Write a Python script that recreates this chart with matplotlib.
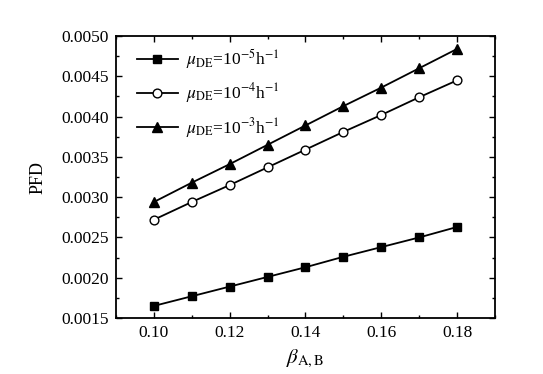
import matplotlib
matplotlib.use("Agg")
import matplotlib.pyplot as plt
from matplotlib.ticker import MultipleLocator, FormatStrFormatter

plt.rcParams['font.family'] = ['Liberation Serif', 'DejaVu Serif']
plt.rcParams['mathtext.fontset'] = 'stix'

beta = [0.10, 0.11, 0.12, 0.13, 0.14, 0.15, 0.16, 0.17, 0.18]
pfd_1e5 = [0.00165, 0.00177, 0.00189, 0.00201, 0.00213, 0.00226, 0.00238, 0.00250, 0.00263]
pfd_1e4 = [0.00272, 0.00294, 0.00315, 0.00337, 0.00359, 0.00381, 0.00402, 0.00424, 0.00445]
pfd_1e3 = [0.00294, 0.00318, 0.00341, 0.00365, 0.00389, 0.00413, 0.00436, 0.00460, 0.00484]
labels = [r'$\mu_{\mathrm{DE}}$=10$^{-5}$h$^{-1}$',
          r'$\mu_{\mathrm{DE}}$=10$^{-4}$h$^{-1}$',
          r'$\mu_{\mathrm{DE}}$=10$^{-3}$h$^{-1}$']

fig = plt.figure(figsize=(5.43, 3.74), dpi=100)
ax = fig.add_axes([0.2136, 0.1497, 0.698, 0.754])

ax.plot(beta, pfd_1e5, color='black', lw=1.3, marker='s', ms=5.5,
        mfc='black', mec='black', label=labels[0])
ax.plot(beta, pfd_1e4, color='black', lw=1.3, marker='o', ms=6.3,
        mfc='white', mec='black', mew=1.0, label=labels[1])
ax.plot(beta, pfd_1e3, color='black', lw=1.3, marker='^', ms=6.8,
        mfc='black', mec='black', label=labels[2])

ax.set_xlim(0.09, 0.19)
ax.set_ylim(0.0015, 0.0050)
ax.xaxis.set_major_locator(MultipleLocator(0.02))
ax.xaxis.set_minor_locator(MultipleLocator(0.01))
ax.yaxis.set_major_locator(MultipleLocator(0.0005))
ax.yaxis.set_minor_locator(MultipleLocator(0.00025))
ax.xaxis.set_major_formatter(FormatStrFormatter('%.2f'))
ax.yaxis.set_major_formatter(FormatStrFormatter('%.4f'))

ax.tick_params(which='both', direction='in', top=True, right=True,
               labelsize=12.5, width=1.0, pad=5)
ax.tick_params(which='major', length=4)
ax.tick_params(which='minor', length=2.5)
for s in ax.spines.values():
    s.set_linewidth(1.3)

ax.set_xlabel(r'$\beta_{\mathrm{A,B}}$', fontsize=15, labelpad=5)
ax.set_ylabel('PFD', fontsize=13, labelpad=11)

leg = ax.legend(loc='upper left', frameon=False, fontsize=12.5,
                handlelength=2.35, handletextpad=0.5, labelspacing=0.6,
                borderaxespad=0.8, bbox_to_anchor=(0.0, 1.035))

fig.savefig('out.png', dpi=100)
